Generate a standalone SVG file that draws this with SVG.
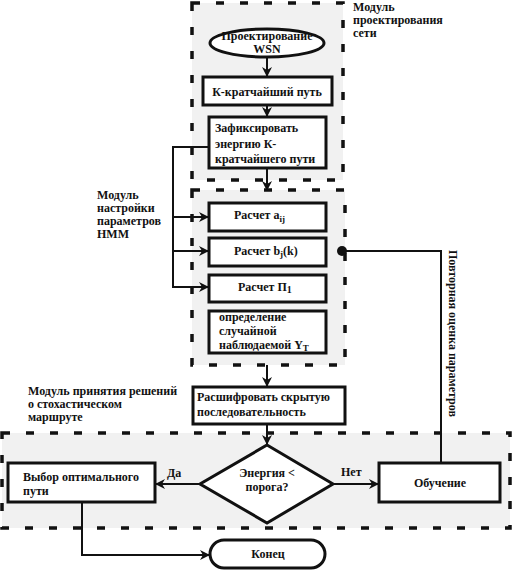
<svg xmlns="http://www.w3.org/2000/svg" width="514" height="572" viewBox="0 0 514 572">
<style>
text{font-family:"Liberation Serif","Times New Roman",serif;font-weight:bold;font-size:12px;fill:#111}
.mod{fill:#f1f1f1;stroke:#111;stroke-width:3.5;stroke-dasharray:8 16}
.node{fill:#fff;stroke:#111;stroke-width:3}
.c{text-anchor:middle}
.ln{fill:none;stroke:#111;stroke-width:2}
.sub{font-size:9px}
</style>
<defs>
<marker id="ah" markerWidth="10" markerHeight="10" refX="9" refY="5" orient="auto" markerUnits="userSpaceOnUse">
<path d="M0,0 L10,5 L0,10 L3,5 z" fill="#111"/>
</marker>
</defs>
<g id="modules">
<rect class="mod" x="192" y="3" width="151" height="177"/>
<rect class="mod" x="192" y="190" width="153" height="175"/>
<rect class="mod" x="2" y="433" width="508" height="95"/>
</g>
<g id="labels">
<text x="353" y="11">Модуль</text>
<text x="353" y="24">проектирования</text>
<text x="353" y="37">сети</text>
<text x="97" y="199">Модуль</text>
<text x="97" y="212">настройки</text>
<text x="97" y="225">параметров</text>
<text x="97" y="238">НММ</text>
<text x="28" y="395">Модуль принятия решений</text>
<text x="28" y="408">о стохастическом</text>
<text x="28" y="421">маршруте</text>
<text transform="translate(449,250) rotate(90)" font-size="11.5">Повторная оценка параметров</text>
</g>
<g id="connectors">
<line class="ln" x1="267" y1="57" x2="267" y2="76" marker-end="url(#ah)"/>
<line class="ln" x1="267" y1="105" x2="267" y2="116" marker-end="url(#ah)"/>
<line class="ln" x1="267" y1="168" x2="267" y2="190" marker-end="url(#ah)"/>
<polyline class="ln" points="209,147 173,147 173,287 208,287" marker-end="url(#ah)"/>
<line class="ln" x1="173" y1="217" x2="208" y2="217" marker-end="url(#ah)"/>
<line class="ln" x1="173" y1="251" x2="208" y2="251" marker-end="url(#ah)"/>
<line class="ln" x1="267" y1="365" x2="267" y2="386" marker-end="url(#ah)"/>
<line class="ln" x1="267" y1="424" x2="267" y2="444" marker-end="url(#ah)"/>
<line class="ln" x1="200" y1="484" x2="156" y2="484" marker-end="url(#ah)"/>
<line class="ln" x1="333" y1="484" x2="378" y2="484" marker-end="url(#ah)"/>
<polyline class="ln" points="441,463 441,251 342,251"/>
<circle cx="342" cy="251" r="5" fill="#111"/>
<polyline class="ln" points="82,502 82,555 209,555" marker-end="url(#ah)"/>
<text x="167" y="477">Да</text>
<text x="341" y="476">Нет</text>
</g>
<g id="n-start">
<ellipse class="node" cx="267" cy="43" rx="57" ry="14"/>
<text class="c" x="267" y="40" font-size="11.5">Проектирование</text>
<text class="c" x="267" y="53" font-size="11.5">WSN</text>
</g>
<g id="n-kpath">
<rect class="node" x="203" y="77" width="129" height="28"/>
<text class="c" x="267" y="96">К-кратчайший путь</text>
</g>
<g id="n-fix">
<rect class="node" x="209" y="117" width="117" height="51"/>
<text x="215" y="132">Зафиксировать</text>
<text x="215" y="148">энергию К-</text>
<text x="215" y="163">кратчайшего пути</text>
</g>
<g id="n-aij">
<rect class="node" x="209" y="203" width="117" height="28"/>
<text x="234" y="219">Расчет a<tspan class="sub" dy="3">ij</tspan></text>
</g>
<g id="n-bj">
<rect class="node" x="209" y="238" width="117" height="28"/>
<text x="234" y="255">Расчет b<tspan class="sub" dy="2">j</tspan><tspan dy="-2">(k)</tspan></text>
</g>
<g id="n-pi">
<rect class="node" x="209" y="275" width="117" height="27"/>
<text x="238" y="291">Расчет П<tspan dy="2" font-size="10">1</tspan></text>
</g>
<g id="n-obs">
<rect class="node" x="209" y="311" width="117" height="42"/>
<text x="219" y="321">определение</text>
<text x="219" y="335">случайной</text>
<text x="219" y="349">наблюдаемой Y<tspan class="sub" dy="2">T</tspan></text>
</g>
<g id="n-decode">
<rect class="node" x="193" y="387" width="152" height="37"/>
<text x="197" y="401">Расшифровать скрытую</text>
<text x="197" y="416">последовательность</text>
</g>
<g id="n-decision">
<polygon class="node" points="267,445 333,484 267,523 200,484"/>
<text class="c" x="267" y="477">Энергия &lt;</text>
<text class="c" x="267" y="491">порога?</text>
</g>
<g id="n-select">
<rect class="node" x="8" y="463" width="147" height="39"/>
<text x="23" y="481">Выбор оптимального</text>
<text x="23" y="495">пути</text>
</g>
<g id="n-learn">
<rect class="node" x="379" y="463" width="121" height="39"/>
<text class="c" x="440" y="487">Обучение</text>
</g>
<g id="n-end">
<rect class="node" x="210" y="540" width="115" height="28" rx="14"/>
<text class="c" x="268" y="558">Конец</text>
</g>
</svg>
